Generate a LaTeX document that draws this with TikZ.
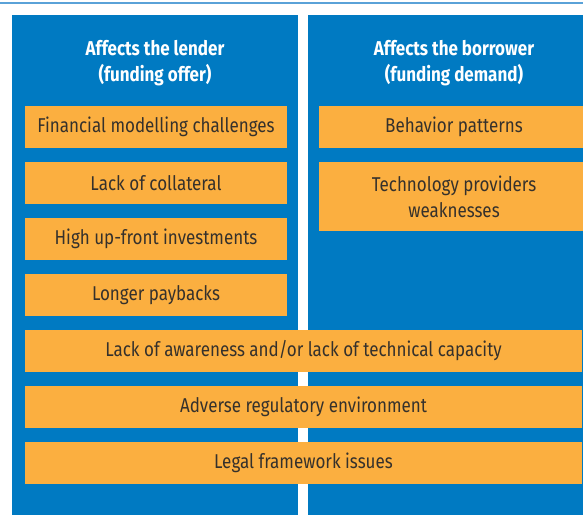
\documentclass[tikz,border=0pt]{standalone}
\usepackage{fontspec}
\setmainfont[FakeStretch=0.85]{Fira Sans}

\definecolor{panelblue}{HTML}{007AC2}
\definecolor{factororange}{HTML}{FBAF40}
\definecolor{factortext}{HTML}{35312C}
\definecolor{ruleblue}{HTML}{5AA2D8}

\tikzset{
  panel/.style={fill=panelblue, inner sep=0pt},
  factor/.style={fill=factororange, text=factortext, inner sep=0pt,
    minimum height=42pt, align=center,
    font=\fontsize{20}{26}\selectfont},
  heading/.style={text=white, align=center,
    font=\fontsize{20}{26}\selectfont\bfseries}
}

\begin{document}
\begin{tikzpicture}[x=1pt, y=-1pt]
                \useasboundingbox (0, 0) rectangle (583, 515);
                % rule on top
                \draw [ruleblue, line width=1.5pt] (0, 3) -- (583, 3);
                % Lender column
                \node [panel, minimum width=286pt, minimum height=500pt] (lender) at (155, 265) {};
                \node [heading] (lenderhead) at (155, 63) {Affects the lender\\(funding offer)};
                \node [factor, minimum width=262pt] (finmodel) at (156, 127) {Financial modelling challenges};
                \node [factor, minimum width=262pt] (collateral) at (156, 183) {Lack of collateral};
                \node [factor, minimum width=262pt] (upfront) at (156, 239) {High up-front investments};
                \node [factor, minimum width=262pt] (payback) at (156, 295) {Longer paybacks};
                % Borrower column
                \node [panel, minimum width=292pt, minimum height=500pt] (borrower) at (454, 265) {};
                \node [heading] (borrowerhead) at (454, 63) {Affects the borrower\\(funding demand)};
                \node [factor, minimum width=270pt] (behavior) at (454, 127) {Behavior patterns};
                \node [factor, minimum width=270pt, minimum height=69pt] (techprov) at (454, 196.5) {Technology providers\\weaknesses};
                % Shared by both
                \node [factor, minimum width=557pt] (awareness) at (303.5, 351) {Lack of awareness and/or lack of technical capacity};
                \node [factor, minimum width=557pt] (regulatory) at (303.5, 407) {Adverse regulatory environment};
                \node [factor, minimum width=557pt] (legal) at (303.5, 463) {Legal framework issues};
\end{tikzpicture}
\end{document}
